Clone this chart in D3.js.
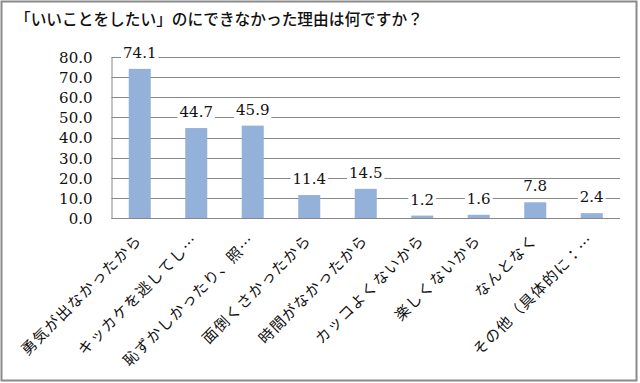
<!DOCTYPE html>
<html><head><meta charset="utf-8">
<script src="https://cdn.jsdelivr.net/npm/d3@7"></script>
<style>body{margin:0;background:#fff}svg{display:block}</style>
</head><body>
<script>
const title = "「いいことをしたい」のにできなかった理由は何ですか？";
const categories = ["勇気が出なかったから","キッカケを逃してし…","恥ずかしかったり、照…","面倒くさかったから","時間がなかったから","カッコよくないから","楽しくないから","なんとなく","その他（具体的に：…"];
const values = [74.1, 44.7, 45.9, 11.4, 14.5, 1.2, 1.6, 7.8, 2.4];
const yTicks = [0,10,20,30,40,50,60,70,80];

const W = 640, H = 383;
const svg = d3.select("body").append("svg").attr("width", W).attr("height", H);
svg.append("rect").attr("x",0).attr("y",0).attr("width",W).attr("height",H).attr("fill","#fff");
svg.append("rect").attr("x",1.5).attr("y",1.5).attr("width",635).attr("height",379)
  .attr("fill","none").attr("stroke","#8a8a8a").attr("stroke-width",2);

const L = 111.5, R = 620, T = 57, B = 218;
const x = d3.scaleBand().domain(categories).range([L, R]).paddingInner(0.61).paddingOuter(0.305);
const y = d3.scaleLinear().domain([0, 80]).range([B, T]);

svg.append("text").attr("x", 15).attr("y", 25)
  .attr("font-family", "'Noto Sans CJK JP'").attr("font-size", 15.7).attr("font-weight", 500).attr("fill", "#111")
  .text(title);

// gridlines
svg.append("g").selectAll("line").data(yTicks).join("line")
  .attr("x1", L).attr("x2", R).attr("y1", d => Math.round(y(d)) + 0.5).attr("y2", d => Math.round(y(d)) + 0.5)
  .attr("stroke", "#888").attr("stroke-width", 1);

// y axis
const yAxis = d3.axisLeft(y).tickValues(yTicks).tickFormat(d3.format(".1f")).tickSize(0).tickPadding(19);
const ga = svg.append("g").attr("transform", `translate(${L},0)`).call(yAxis);
ga.select(".domain").attr("stroke", "#888");
ga.selectAll("text").attr("font-family", "'DejaVu Serif'").attr("font-size", 15).attr("fill", "#111").attr("dy", "0.36em");

// bars
svg.append("g").selectAll("rect").data(values).join("rect")
  .attr("x", (d, i) => x(categories[i])).attr("width", x.bandwidth())
  .attr("y", d => y(d)).attr("height", d => B - y(d)).attr("fill", "#93b1d9");

// x axis line
svg.append("line").attr("x1", L).attr("x2", R).attr("y1", B + 0.5).attr("y2", B + 0.5).attr("stroke", "#888");

// data labels with white background
const lg = svg.append("g");
values.forEach((v, i) => {
  const cx = x(categories[i]) + x.bandwidth() / 2;
  const t = lg.append("text").attr("x", cx).attr("y", y(v) - 11).attr("text-anchor", "middle")
    .attr("font-family", "'DejaVu Serif'").attr("font-size", 15).attr("fill", "#111").text(v.toFixed(1));
  const bb = t.node().getBBox();
  lg.insert("rect", "text").attr("x", bb.x - 2).attr("y", bb.y + 2).attr("width", bb.width + 4).attr("height", bb.height - 2).attr("fill", "#fff");
});

// category labels rotated
svg.append("g").selectAll("text").data(categories).join("text")
  .attr("transform", d => `translate(${x(d) + x.bandwidth() / 2 + 3},${B + 23}) rotate(-45)`)
  .attr("text-anchor", "end")
  .attr("font-family", "'Noto Sans CJK JP'").attr("font-size", 15).attr("letter-spacing", "1.3px")
  .attr("fill", "#111").text(d => d);
</script>
</body></html>
